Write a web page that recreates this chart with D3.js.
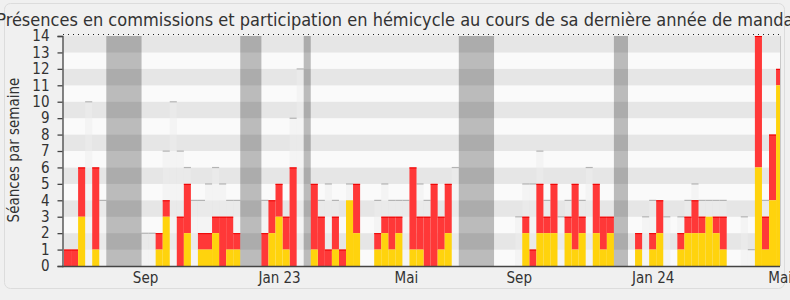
<!DOCTYPE html>
<html>
<head>
<meta charset="utf-8">
<script src="https://cdn.jsdelivr.net/npm/d3@7/dist/d3.min.js"></script>
<style>
  body { margin: 0; background: #f0f0f0; }
  svg { display: block; }
  text { font-family: "DejaVu Sans Condensed", "Liberation Sans", sans-serif; fill: #333; }
</style>
</head>
<body>
<div id="chart"></div>
<script>
// one value per week, index 0 = first week on the left
var total = [
  1,1,6,0,6,0,0,0,0,0,
  0,0,0,2,4,0,3,5,0,2,
  2,3,3,3,2,0,0,0,2,4,
  5,3,6,0,0,5,3,1,3,1,
  4,5,0,0,2,3,3,3,0,6,
  3,3,5,3,5,0,0,0,0,0,
  0,0,0,0,0,3,1,5,3,5,
  0,3,5,3,0,5,3,3,0,0,
  0,2,0,2,4,0,0,2,3,4,
  3,3,3,3,0,0,0,0,14,3,
  8,12]
var commission = [
  0,0,3,0,1,0,0,0,0,0,
  0,0,0,1,3,0,0,2,0,1,
  1,2,0,1,1,0,0,0,0,2,
  3,1,0,0,0,1,0,0,1,0,
  4,2,0,0,1,2,1,2,0,1,
  1,0,0,1,2,0,0,0,0,0,
  0,0,0,0,0,2,0,2,2,2,
  0,2,1,2,0,2,1,2,0,0,
  0,1,0,1,2,0,0,1,2,2,
  2,3,2,1,0,0,0,0,6,1,
  4,11]
var median = [
  0,0,0,10,0,4,0,0,0,0,
  0,2,2,0,7,10,7,6,4,4,
  5,6,5,4,4,0,0,0,4,0,
  0,0,9,12,0,0,4,5,4,0,
  5,0,0,0,4,5,4,4,4,0,
  5,4,0,0,0,6,0,0,0,0,
  0,0,0,0,3,5,5,7,4,0,
  3,4,0,4,6,0,0,0,0,0,
  0,0,3,4,0,3,0,3,4,5,
  4,4,4,4,0,0,3,1,0,4,
  5,0]
// parliamentary holidays: first and last week
var vacances = [[6, 10], [25, 27], [34, 34], [56, 60], [78, 79]]
var tickWeeks = [11, 30, 48, 64, 83, 101]
var tickLabels = ["Sep", "Jan 23", "Mai", "Sep", "Jan 24", "Mai"]

var width = 790, height = 300
var plot = {left: 63, right: 780, top: 36, bottom: 266}
var nWeeks = total.length
var barW = 7.05

var svg = d3.select("#chart").append("svg")
    .attr("width", width)
    .attr("height", height)

// frame
svg.append("rect")
    .attr("x", 4.5).attr("y", 3.5)
    .attr("width", 780).attr("height", 285)
    .attr("rx", 6)
    .attr("fill", "#f0f0f0")
    .attr("stroke", "#dcdcdc")

svg.append("text")
    .attr("x", 398)
    .attr("y", 26)
    .attr("text-anchor", "middle")
    .style("font-size", "18px")
    .text("Présences en commissions et participation en hémicycle au cours de sa dernière année de mandat")

var x = d3.scaleLinear()
    .domain([0, nWeeks])
    .range([64, 64 + nWeeks * barW])

var y = d3.scaleLinear()
    .domain([0, 14])
    .range([plot.bottom, plot.top])

svg.append("defs").append("clipPath")
    .attr("id", "clip")
  .append("rect")
    .attr("x", plot.left)
    .attr("y", plot.top)
    .attr("width", plot.right - plot.left)
    .attr("height", plot.bottom - plot.top)

var g = svg.append("g").attr("clip-path", "url(#clip)")

// striped background
g.selectAll(".stripe")
    .data(d3.range(14))
    .enter().append("rect")
    .attr("x", plot.left)
    .attr("y", d => y(d + 1))
    .attr("width", plot.right - plot.left)
    .attr("height", d => y(d) - y(d + 1))
    .attr("fill", d => d % 2 ? "#e6e6e6" : "#fafafa")

var weeks = d3.range(nWeeks)

// median of deputies
g.selectAll(".med")
    .data(weeks.filter(i => median[i] > 0))
    .enter().append("rect")
    .attr("x", i => x(i))
    .attr("y", i => y(median[i]))
    .attr("width", barW)
    .attr("height", i => y(0) - y(median[i]))
    .attr("fill", "rgba(238,238,238,0.5)")
g.selectAll(".medtop")
    .data(weeks.filter(i => median[i] > 0))
    .enter().append("rect")
    .attr("x", i => x(i))
    .attr("y", i => y(median[i]) - 0.5)
    .attr("width", barW)
    .attr("height", 1.2)
    .attr("fill", "#b4b4b4")

// hemicycle (red) stacked on commission (yellow)
g.selectAll(".red")
    .data(weeks.filter(i => total[i] > commission[i]))
    .enter().append("rect")
    .attr("x", i => x(i))
    .attr("y", i => y(total[i]))
    .attr("width", barW)
    .attr("height", i => y(commission[i]) - y(total[i]))
    .attr("fill", "#ff3838")
g.selectAll(".redtop")
    .data(weeks.filter(i => total[i] > commission[i]))
    .enter().append("rect")
    .attr("x", i => x(i))
    .attr("y", i => y(total[i]))
    .attr("width", barW)
    .attr("height", 1)
    .attr("fill", "#ee0000")
g.selectAll(".yellow")
    .data(weeks.filter(i => commission[i] > 0))
    .enter().append("rect")
    .attr("x", i => x(i))
    .attr("y", i => y(commission[i]))
    .attr("width", barW)
    .attr("height", i => y(0) - y(commission[i]))
    .attr("fill", "#ffd30d")

// holidays
g.selectAll(".vac")
    .data(vacances)
    .enter().append("rect")
    .attr("x", d => x(d[0]))
    .attr("y", plot.top)
    .attr("width", d => x(d[1] + 1) - x(d[0]))
    .attr("height", plot.bottom - plot.top)
    .attr("fill", "rgba(0,0,0,0.25)")

// dotted top line
svg.append("line")
    .attr("x1", plot.left).attr("x2", plot.right)
    .attr("y1", plot.top - 1.5).attr("y2", plot.top - 1.5)
    .attr("stroke", "#222")
    .attr("stroke-dasharray", "1,4")

svg.append("line")
    .attr("x1", plot.right + 0.5).attr("x2", plot.right + 0.5)
    .attr("y1", plot.top).attr("y2", plot.bottom)
    .attr("stroke", "#c8c8c8")

// axes
var yAxis = svg.append("g")
    .attr("transform", "translate(" + (plot.left - 0.5) + ",0)")
    .call(d3.axisLeft(y).ticks(14).tickSize(5).tickSizeOuter(5).tickPadding(8))
yAxis.selectAll("text").style("font-size", "15px")
yAxis.selectAll("path, line").attr("stroke", "#444").attr("stroke-width", 1.3)

var xAxis = svg.append("g")
    .attr("transform", "translate(0," + (plot.bottom + 0.5) + ")")
    .call(d3.axisBottom(x)
        .tickValues(tickWeeks.map(d => d + 0.5))
        .tickFormat((d, i) => tickLabels[i])
        .tickSize(0)
        .tickPadding(6))
xAxis.select(".domain").attr("d", "M" + (plot.left - 1) + ",0H" + plot.right)
    .attr("stroke", "#444").attr("stroke-width", 1.3)
xAxis.selectAll("text").style("font-size", "15px")

svg.append("text")
    .attr("transform", "translate(19,150) rotate(-90)")
    .attr("text-anchor", "middle")
    .style("font-size", "15px")
    .text("Séances par semaine")
</script>
</body>
</html>
